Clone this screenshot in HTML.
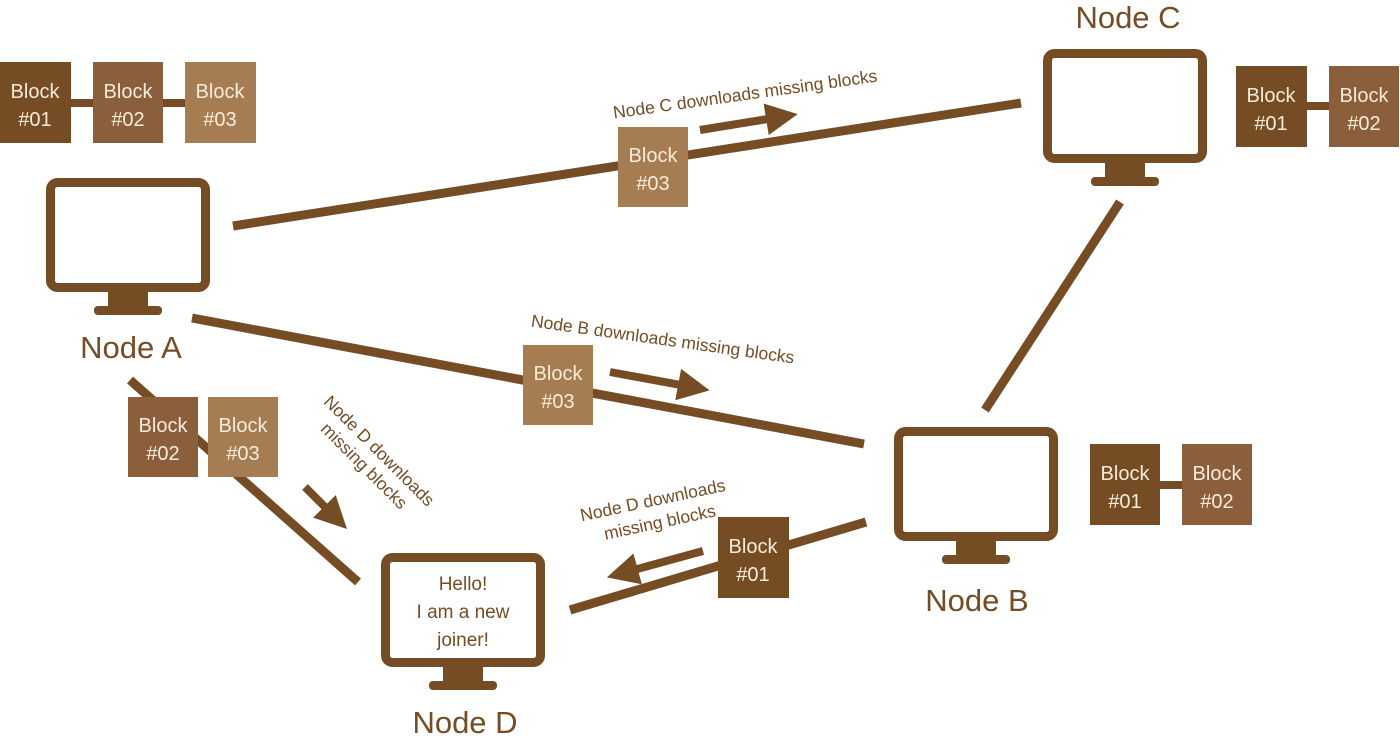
<!DOCTYPE html>
<html><head><meta charset="utf-8"><style>
html,body{margin:0;padding:0;background:#fff;}
svg{display:block;font-family:"Liberation Sans","DejaVu Sans",sans-serif;}
.bt{fill:#f7ecd9;font-size:20px;text-anchor:middle;}
.nl{fill:#754c24;font-size:31px;text-anchor:middle;}
.lb{fill:#754c24;font-size:17.5px;text-anchor:middle;}
</style></head><body>
<svg width="1400" height="736" viewBox="0 0 1400 736">
<defs>
<g id="mon">
<rect x="4.5" y="4.5" width="155" height="105" rx="7" fill="#fff" stroke="#754c24" stroke-width="9"/>
<rect x="62" y="112" width="40" height="17" fill="#754c24"/>
<rect x="48" y="128" width="68" height="9" rx="4" fill="#754c24"/>
</g>
<marker id="ah" markerWidth="4" markerHeight="4" refX="1" refY="2" orient="auto" markerUnits="strokeWidth"><path d="M0,0 L4,2 L0,4 z" fill="#754c24"/></marker>
</defs>
<g stroke="#754c24" stroke-width="9" fill="none">
<line x1="233" y1="226" x2="1021" y2="103"/>
<line x1="192" y1="318" x2="864" y2="444"/>
<line x1="1120" y1="202" x2="985" y2="410"/>
<line x1="130" y1="380" x2="358" y2="582"/>
<line x1="866" y1="522" x2="570" y2="610"/>
<line x1="60" y1="103" x2="200" y2="103" stroke-width="8"/>
<line x1="1300" y1="106" x2="1340" y2="106" stroke-width="8"/>
<line x1="1150" y1="485" x2="1190" y2="485" stroke-width="8"/>
</g>
<g stroke="#754c24" stroke-width="8" fill="none" marker-end="url(#ah)">
<line x1="700" y1="130" x2="774" y2="118"/>
<line x1="610" y1="372" x2="686" y2="386"/>
<line x1="305" y1="487" x2="330" y2="512"/>
<line x1="703" y1="551" x2="630" y2="571"/>
</g>
<rect x="0" y="62" width="71" height="81" fill="#754c24"/>
<rect x="93" y="62" width="70" height="81" fill="#8b5e3c"/>
<rect x="185" y="62" width="71" height="81" fill="#a67c52"/>
<text class="bt" x="35" y="98">Block</text><text class="bt" x="35" y="126">#01</text>
<text class="bt" x="128" y="98">Block</text><text class="bt" x="128" y="126">#02</text>
<text class="bt" x="220" y="98">Block</text><text class="bt" x="220" y="126">#03</text>
<rect x="1236" y="66" width="71" height="81" fill="#754c24"/>
<rect x="1329" y="66" width="70" height="81" fill="#8b5e3c"/>
<text class="bt" x="1271" y="102">Block</text><text class="bt" x="1271" y="130">#01</text>
<text class="bt" x="1364" y="102">Block</text><text class="bt" x="1364" y="130">#02</text>
<rect x="1090" y="444" width="70" height="81" fill="#754c24"/>
<rect x="1182" y="444" width="70" height="81" fill="#8b5e3c"/>
<text class="bt" x="1125" y="480">Block</text><text class="bt" x="1125" y="508">#01</text>
<text class="bt" x="1217" y="480">Block</text><text class="bt" x="1217" y="508">#02</text>
<rect x="618" y="127" width="70" height="80" fill="#a67c52"/>
<text class="bt" x="653" y="162">Block</text><text class="bt" x="653" y="190">#03</text>
<rect x="523" y="345" width="70" height="80" fill="#a67c52"/>
<text class="bt" x="558" y="380">Block</text><text class="bt" x="558" y="408">#03</text>
<rect x="128" y="397" width="70" height="80" fill="#8b5e3c"/>
<text class="bt" x="163" y="432">Block</text><text class="bt" x="163" y="460">#02</text>
<rect x="208" y="397" width="70" height="80" fill="#a67c52"/>
<text class="bt" x="243" y="432">Block</text><text class="bt" x="243" y="460">#03</text>
<rect x="718" y="517" width="71" height="81" fill="#754c24"/>
<text class="bt" x="753" y="553">Block</text><text class="bt" x="753" y="581">#01</text>
<use href="#mon" x="46" y="178"/>
<use href="#mon" x="1043" y="49"/>
<use href="#mon" x="894" y="427"/>
<use href="#mon" x="381" y="553"/>
<text class="nl" x="131" y="358">Node A</text>
<text class="nl" x="1128" y="28">Node C</text>
<text class="nl" x="977" y="611">Node B</text>
<text class="nl" x="465" y="733">Node D</text>
<text class="lb" x="463" y="590" style="font-size:19px">Hello!</text>
<text class="lb" x="463" y="618" style="font-size:19px">I am a new</text>
<text class="lb" x="463" y="646" style="font-size:19px">joiner!</text>
<text class="lb" transform="translate(746,100) rotate(-8)">Node C downloads missing blocks</text>
<text class="lb" transform="translate(662,345) rotate(8)">Node B downloads missing blocks</text>
<text class="lb" transform="translate(375,455) rotate(45)">Node D downloads</text>
<text class="lb" transform="translate(360,470) rotate(45)">missing blocks</text>
<text class="lb" transform="translate(654,506) rotate(-12)">Node D downloads</text>
<text class="lb" transform="translate(661,528) rotate(-12)">missing blocks</text>
</svg>
</body></html>
